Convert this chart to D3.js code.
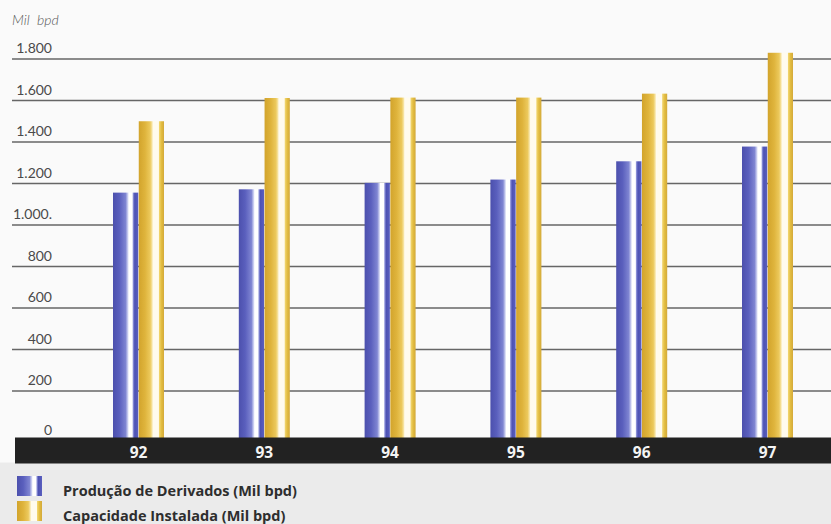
<!DOCTYPE html>
<html>
<head>
<meta charset="utf-8">
<script src="https://cdn.jsdelivr.net/npm/d3@7/dist/d3.min.js"></script>
<style>
  html, body { margin: 0; padding: 0; background: #fafafa; }
  svg { display: block; }
</style>
</head>
<body>
<script>
// Refinery output vs. installed capacity, thousand barrels per day
const years = ["92", "93", "94", "95", "96", "97"];
const producao = [1156, 1172, 1203, 1219, 1307, 1378];
const capacidade = [1500, 1612, 1614, 1614, 1633, 1830];
const seriesNames = ["Produção de Derivados (Mil bpd)", "Capacidade Instalada (Mil bpd)"];
const tickValues = [0, 200, 400, 600, 800, 1000, 1200, 1400, 1600, 1800];
const tickLabels = ["0", "200", "400", "600", "800", "1.000.", "1.200", "1.400", "1.600", "1.800"];
const unitLabel = "Mil bpd";

const W = 831, H = 524;
const svg = d3.select("body").append("svg").attr("width", W).attr("height", H);

const y = d3.scaleLinear().domain([0, 1800]).range([432.5, 59]);
const x = d3.scaleBand().domain(years).range([75.6, 830.4]).padding(0);
const inner = d3.scaleBand().domain([0, 1]).range([-25.5, 25.5]).paddingInner(0.02);

// cylinder-like shading for the two bar colours
const defs = svg.append("defs");
function cylinder(id, stops) {
  const g = defs.append("linearGradient").attr("id", id)
    .attr("x1", "0%").attr("x2", "100%").attr("y1", "0%").attr("y2", "0%");
  stops.forEach(([o, c]) => g.append("stop").attr("offset", o).attr("stop-color", c));
}
cylinder("blueCyl", [
  [0, "#4c50ad"], [0.25, "#5a5fbd"], [0.5, "#7f85d2"], [0.58, "#c7cbef"],
  [0.63, "#ffffff"], [0.76, "#ffffff"], [0.8, "#8b90d8"], [0.86, "#4d52b3"], [1, "#5a5fbf"]
]);
cylinder("goldCyl", [
  [0, "#d2a42c"], [0.25, "#dfb43c"], [0.45, "#ecc95c"], [0.52, "#f6e29c"],
  [0.57, "#fffbee"], [0.78, "#fffbee"], [0.82, "#f0d36a"], [0.9, "#e2bc40"], [1, "#d3a93a"]
]);
const fills = ["url(#blueCyl)", "url(#goldCyl)"];

// paper tone below the year band
svg.append("rect").attr("x", 0).attr("y", y(0) + 30).attr("width", W).attr("height", H - y(0) - 30)
  .attr("fill", "#ebebeb");

// unit caption
svg.append("text").attr("x", 12).attr("y", 25)
  .attr("font-family", "Lato, 'Open Sans', sans-serif").attr("font-style", "italic")
  .attr("font-weight", 300).attr("font-size", 14).attr("fill", "#555")
  .attr("word-spacing", 4)
  .text(unitLabel);

// horizontal gridlines (the zero line is the dark year band)
svg.append("g").selectAll("line").data(tickValues.filter(v => v > 0)).join("line")
  .attr("x1", 12).attr("x2", W).attr("y1", d => y(d)).attr("y2", d => y(d))
  .attr("stroke", "#666").attr("stroke-width", 1.3);

// tick labels sit just above their gridline
svg.append("g").selectAll("text").data(tickValues).join("text")
  .attr("x", 52).attr("y", d => d === 0 ? y(d) + 2 : y(d) - 6)
  .attr("text-anchor", "end")
  .attr("font-family", "Lato, sans-serif").attr("font-weight", 400)
  .attr("font-size", 14).attr("fill", "#4a4a4a")
  .text((d, i) => tickLabels[i]);

// bars
const series = [producao, capacidade];
const groups = svg.append("g").selectAll("g").data(years).join("g")
  .attr("transform", d => `translate(${x(d) + x.bandwidth() / 2},0)`);
groups.selectAll("rect").data((d, i) => series.map((s, k) => ({ k, v: s[i] }))).join("rect")
  .attr("x", d => inner(d.k))
  .attr("width", inner.bandwidth())
  .attr("y", d => y(d.v))
  .attr("height", d => y(0) + 6 - y(d.v))
  .attr("fill", d => fills[d.k]);

// dark year band
svg.append("rect").attr("x", 15).attr("y", y(0) + 5).attr("width", W - 15).attr("height", 26)
  .attr("fill", "#222222");
svg.append("g").selectAll("text").data(years).join("text")
  .attr("x", d => x(d) + x.bandwidth() / 2)
  .attr("y", y(0) + 25.5)
  .attr("text-anchor", "middle")
  .attr("font-family", "'Open Sans', sans-serif").attr("font-weight", 700)
  .attr("font-size", 15.5).attr("fill", "#f4f4f4")
  .text(d => d);

// legend
const legend = svg.append("g").attr("transform", "translate(17,476)");
seriesNames.forEach((name, k) => {
  const gy = k * 25;
  legend.append("rect").attr("x", 0).attr("y", gy).attr("width", 25).attr("height", 20)
    .attr("fill", fills[k]);
  legend.append("text").attr("x", 46).attr("y", gy + 20)
    .attr("font-family", "'Open Sans', sans-serif").attr("font-weight", 700)
    .attr("font-size", 14.5).attr("fill", "#2e2e2e")
    .text(name);
});
</script>
</body>
</html>
